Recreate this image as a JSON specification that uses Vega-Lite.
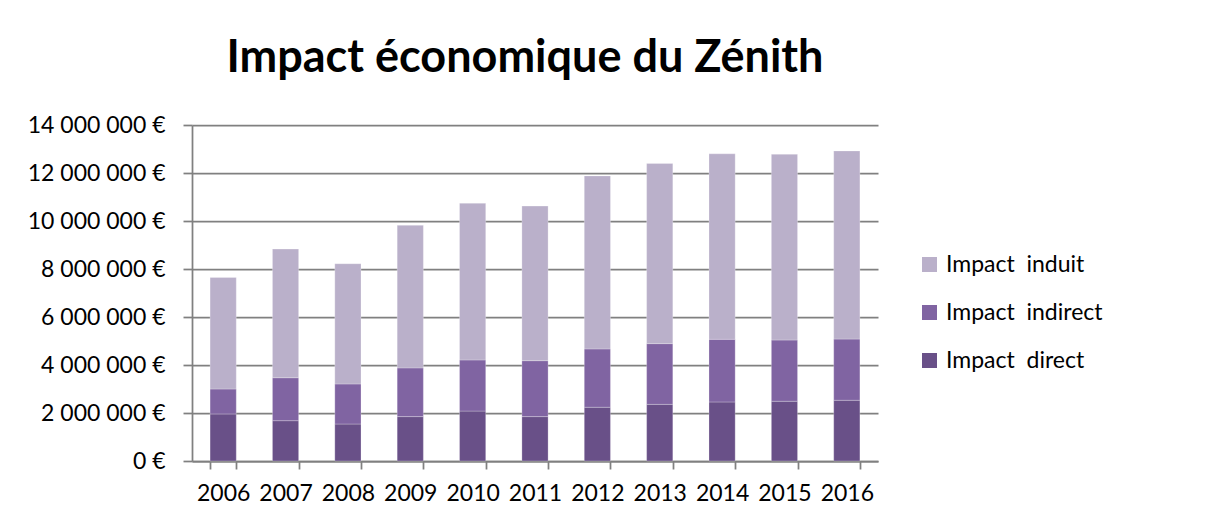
{
  "$schema": "https://vega.github.io/schema/vega-lite/v6.json",
  "width": 686,
  "height": 336,
  "autosize": {"type": "none"},
  "padding": {"left": 192, "top": 125, "right": 350, "bottom": 56},
  "background": "white",
  "title": {
    "text": "Impact économique du Zénith",
    "font": "Lato",
    "fontSize": 45,
    "fontWeight": "bold",
    "color": "#000000",
    "anchor": "middle",
    "frame": "group",
    "baseline": "alphabetic",
    "dx": -10,
    "offset": -3
  },
  "data": {
    "values": [
      {"annee": "2006", "serie": "Impact\u00a0 direct", "valeur": 1960000},
      {"annee": "2007", "serie": "Impact\u00a0 direct", "valeur": 1680000},
      {"annee": "2008", "serie": "Impact\u00a0 direct", "valeur": 1540000},
      {"annee": "2009", "serie": "Impact\u00a0 direct", "valeur": 1850000},
      {"annee": "2010", "serie": "Impact\u00a0 direct", "valeur": 2080000},
      {"annee": "2011", "serie": "Impact\u00a0 direct", "valeur": 1850000},
      {"annee": "2012", "serie": "Impact\u00a0 direct", "valeur": 2240000},
      {"annee": "2013", "serie": "Impact\u00a0 direct", "valeur": 2360000},
      {"annee": "2014", "serie": "Impact\u00a0 direct", "valeur": 2460000},
      {"annee": "2015", "serie": "Impact\u00a0 direct", "valeur": 2490000},
      {"annee": "2016", "serie": "Impact\u00a0 direct", "valeur": 2530000},
      {"annee": "2006", "serie": "Impact\u00a0 indirect", "valeur": 1040000},
      {"annee": "2007", "serie": "Impact\u00a0 indirect", "valeur": 1790000},
      {"annee": "2008", "serie": "Impact\u00a0 indirect", "valeur": 1670000},
      {"annee": "2009", "serie": "Impact\u00a0 indirect", "valeur": 2030000},
      {"annee": "2010", "serie": "Impact\u00a0 indirect", "valeur": 2130000},
      {"annee": "2011", "serie": "Impact\u00a0 indirect", "valeur": 2330000},
      {"annee": "2012", "serie": "Impact\u00a0 indirect", "valeur": 2430000},
      {"annee": "2013", "serie": "Impact\u00a0 indirect", "valeur": 2530000},
      {"annee": "2014", "serie": "Impact\u00a0 indirect", "valeur": 2610000},
      {"annee": "2015", "serie": "Impact\u00a0 indirect", "valeur": 2550000},
      {"annee": "2016", "serie": "Impact\u00a0 indirect", "valeur": 2550000},
      {"annee": "2006", "serie": "Impact\u00a0 induit", "valeur": 4650000},
      {"annee": "2007", "serie": "Impact\u00a0 induit", "valeur": 5360000},
      {"annee": "2008", "serie": "Impact\u00a0 induit", "valeur": 5010000},
      {"annee": "2009", "serie": "Impact\u00a0 induit", "valeur": 5940000},
      {"annee": "2010", "serie": "Impact\u00a0 induit", "valeur": 6530000},
      {"annee": "2011", "serie": "Impact\u00a0 induit", "valeur": 6440000},
      {"annee": "2012", "serie": "Impact\u00a0 induit", "valeur": 7210000},
      {"annee": "2013", "serie": "Impact\u00a0 induit", "valeur": 7510000},
      {"annee": "2014", "serie": "Impact\u00a0 induit", "valeur": 7730000},
      {"annee": "2015", "serie": "Impact\u00a0 induit", "valeur": 7740000},
      {"annee": "2016", "serie": "Impact\u00a0 induit", "valeur": 7840000}
    ]
  },
  "mark": {"type": "bar", "stroke": "#ffffff", "strokeWidth": 0.5, "strokeOpacity": 0.5},
  "encoding": {
    "x": {
      "field": "annee",
      "type": "ordinal",
      "scale": {"paddingInner": 0.58, "paddingOuter": 0.29},
      "axis": {
        "title": null,
        "labelAngle": 0,
        "tickBand": "extent",
        "tickSize": 8,
        "tickColor": "#808080",
        "tickWidth": 1.75,
        "domainColor": "#808080",
        "domainWidth": 1.75,
        "labelFont": "Lato",
        "labelFontSize": 23,
        "labelColor": "#000000",
        "labelPadding": 13
      }
    },
    "y": {
      "field": "valeur",
      "type": "quantitative",
      "aggregate": "sum",
      "stack": "zero",
      "scale": {"domain": [0, 14000000], "nice": false},
      "axis": {
        "title": null,
        "values": [0, 2000000, 4000000, 6000000, 8000000, 10000000, 12000000, 14000000],
        "format": "$,.0f",
        "grid": true,
        "gridColor": "#808080",
        "gridWidth": 1.75,
        "domainColor": "#808080",
        "domainWidth": 1.75,
        "tickSize": 9,
        "tickColor": "#808080",
        "tickWidth": 1.75,
        "labelFont": "Lato",
        "labelFontSize": 23,
        "labelColor": "#000000",
        "labelPadding": 18
      }
    },
    "color": {
      "field": "serie",
      "type": "nominal",
      "scale": {
        "domain": ["Impact\u00a0 induit", "Impact\u00a0 indirect", "Impact\u00a0 direct"],
        "range": ["#BAB0CA", "#8064A2", "#695088"]
      },
      "legend": {
        "title": null,
        "orient": "none",
        "legendX": 726,
        "legendY": 128,
        "symbolType": "square",
        "symbolSize": 225,
        "symbolStrokeWidth": 0,
        "labelFont": "Lato",
        "labelFontSize": 23,
        "labelColor": "#000000",
        "labelOffset": 5,
        "rowPadding": 24
      }
    },
    "order": {"field": "serie", "sort": "ascending"}
  },
  "config": {
    "locale": {
      "number": {
        "decimal": ",",
        "thousands": " ",
        "grouping": [3],
        "currency": ["", " €"]
      }
    },
    "view": {"stroke": null}
  }
}
